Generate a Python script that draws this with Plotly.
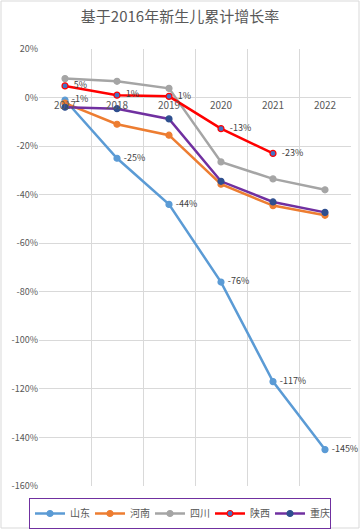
import plotly.graph_objects as go

years = ["2017", "2018", "2019", "2020", "2021", "2022"]
shandong = [-1, -25, -44, -76, -117, -145]
henan = [-2.3, -11, -15.5, -35.7, -44.5, -48.5]
sichuan = [7.8, 6.7, 3.8, -26.5, -33.5, -38]
shaanxi = [4.8, 1, 0.5, -12.8, -23]
chongqing = [-4, -4.6, -8.8, -34.5, -43, -47.3]
shandong_labels = ["-1%", "-25%", "-44%", "-76%", "-117%", "-145%"]
shaanxi_labels = ["5%", "1%", "1%", "-13%", "-23%"]
ytick_vals = [20, 0, -20, -40, -60, -80, -100, -120, -140, -160]
ytick_text = ["20%", "0%", "-20%", "-40%", "-60%", "-80%", "-100%", "-120%", "-140%", "-160%"]

W, H = 360, 529
ml, mr, mt, mb = 39, 9, 49, 43
ymin, ymax = -160, 20

fig = go.Figure()

def add(name, y, color, mcolor, mline=None, text=None):
    fig.add_trace(go.Scatter(
        x=years[:len(y)], y=y, name=name,
        mode="lines+markers+text" if text else "lines+markers",
        text=text, textposition="middle right",
        textfont=dict(size=9, color="#404040"),
        line=dict(color=color, width=2.5),
        marker=dict(size=6, color=mcolor,
                    line=dict(color=mline if mline else mcolor, width=1.2)),
        cliponaxis=False,
    ))

add("山东", shandong, "#5B9BD5", "#5B9BD5", text=[" " + t for t in shandong_labels])
add("河南", henan, "#ED7D31", "#ED7D31")
add("四川", sichuan, "#A5A5A5", "#A5A5A5")
add("陕西", shaanxi, "#FF0000", "#4472C4", "#FF0000", text=["  " + t for t in shaanxi_labels])
add("重庆", chongqing, "#7030A0", "#2F4F8F")

zero_pos = (0 - ymin) / (ymax - ymin)
pw, ph = W - ml - mr, H - mt - mb

fig.update_layout(
    width=W, height=H,
    margin=dict(l=ml, r=mr, t=mt, b=mb, autoexpand=False),
    paper_bgcolor="white", plot_bgcolor="white",
    font=dict(family="Noto Sans CJK SC, Noto Sans, sans-serif", color="#595959"),
    title=dict(text="基于2016年新生儿累计增长率", x=0.5, xanchor="center",
               y=1 - 17 / H, yanchor="middle",
               font=dict(size=15, color="#595959")),
    showlegend=True,
    legend=dict(orientation="h", x=(180 - ml) / pw, xanchor="center",
                y=-(498 - (H - mb)) / ph, yanchor="top",
                bordercolor="#7030A0", borderwidth=1,
                font=dict(size=10, color="#595959"),
                itemwidth=30, entrywidth=15, entrywidthmode="pixels",
                tracegroupgap=0),
    xaxis=dict(type="category", range=[-0.5, 5.5], tickson="boundaries",
               showgrid=True, gridcolor="#D9D9D9", gridwidth=1,
               ticks="", showline=False, zeroline=False, automargin=False,
               anchor="free", position=zero_pos,
               tickfont=dict(size=10, color="#595959")),
    yaxis=dict(range=[ymin, ymax], tickvals=ytick_vals, ticktext=ytick_text,
               showgrid=True, gridcolor="#D9D9D9", gridwidth=1, automargin=False,
               zeroline=False, showline=False, ticks="",
               tickfont=dict(size=9, color="#595959")),
)

fig.add_shape(type="rect", xref="paper", yref="paper",
              x0=-(ml - 1) / pw, x1=1 + (mr - 1) / pw,
              y0=-(mb - 1) / ph, y1=1 + (mt - 1) / ph,
              line=dict(color="#D9D9D9", width=1), layer="below")

fig.write_html("out.html", config={"displayModeBar": False},
               post_script="document.body.style.margin='0px';document.body.style.padding='0px';")
